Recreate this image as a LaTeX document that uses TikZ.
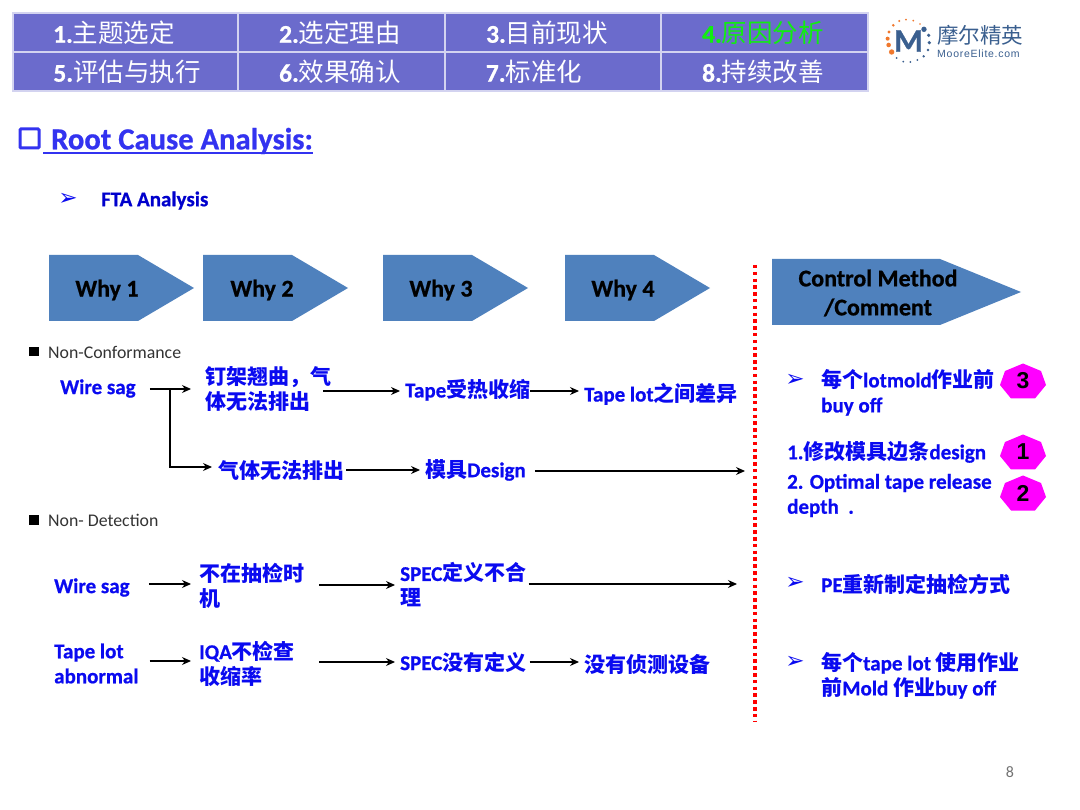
\documentclass[tikz,border=0pt]{standalone}
\usepackage{fontspec}
\setmainfont{Carlito}[BoldFeatures={FakeBold=0.7}]
\newfontfamily\zhb{Noto Sans CJK SC Bold}
\newfontfamily\zhr{Noto Sans CJK SC}
\newfontfamily\syms{DejaVu Sans}
\newfontfamily\arial{Liberation Sans}
\newfontfamily\logolatin[LetterSpace=7]{Liberation Sans}
\newcommand\Z[1]{{\zhb #1}}
\newcommand\R[1]{{\mdseries\zhr #1}}
\usetikzlibrary{arrows.meta}
\definecolor{hdr}{HTML}{6B6BCC}
\definecolor{whyblue}{HTML}{4F81BD}
\definecolor{txtblue}{HTML}{0A0AF0}
\definecolor{titleblue}{HTML}{3333F0}
\definecolor{logoblue}{HTML}{3A5F8F}
\definecolor{logoorange}{HTML}{F0782D}
\definecolor{hotpink}{RGB}{255,0,255}
\definecolor{hdrgreen}{HTML}{11EE11}
\tikzset{
  x=1pt,y=-1pt,
  cell/.style={fill=hdr,draw=white!70!hdr,line width=1.2pt},
  hdrtxt/.style={text=white,inner sep=0pt,font=\fontsize{25.5}{28}\selectfont\bfseries},
  lbl/.style={text=txtblue,anchor=west,inner sep=0pt,align=left,font=\fontsize{21}{25}\selectfont\bfseries},
  small/.style={text=black!80,anchor=west,inner sep=0pt,font=\fontsize{17.8}{20}\selectfont},
  why/.style={fill=whyblue,draw=none},
  whytxt/.style={inner sep=0pt,align=center,text=black,font=\fontsize{24}{29}\selectfont\bfseries},
  arr/.style={-{Stealth[length=9pt,width=8pt]},line width=1.2pt,black},
  bullet/.style={text=txtblue,inner sep=0pt,font=\fontsize{23}{24}\selectfont\syms},
  hept/.style={fill=hotpink,draw=none},
  num/.style={inner sep=0pt,text=black,font=\fontsize{23}{25}\selectfont\arial\bfseries},
}
\newcommand\whyarrow[6]{% name x0 x1 shoulder y0 y1
  \fill[why] (#2,#5) -- (#4,#5) -- (#3,{(#5+#6)/2}) -- (#4,#6) -- (#2,#6) -- cycle;
}
\newcommand\heptagon[4]{% name x y text
  \fill[hept,shift={(#2,#3)}] (0,-17.5) -- (18,-10) -- (23,4) -- (12,17.5) -- (-12,17.5) -- (-23,4) -- (-18,-10) -- cycle;
  \node[num] (#1) at (#2,#3) {#4};
}
\newcommand\conn[5]{% a dxa b dxb y
  \draw[arr] ([xshift=#2pt]#1.east |- 0,#5) -- ([xshift=-#4pt]#3.west |- 0,#5);
}
\begin{document}
\begin{tikzpicture}
\useasboundingbox (0,0) rectangle (1080,810);
\fill[white] (0,0) rectangle (1080,810);
% header
\foreach \xa/\xb in {13/238,238/445,445/661,661/868}
  \foreach \ya/\yb in {13/52,52/91}
    \draw[cell] (\xa,\ya) rectangle (\xb,\yb);
\node[hdrtxt] (h1) at (114,33) {1.\R{主题选定}};
\node[hdrtxt] (h2) at (340,33) {2.\R{选定理由}};
\node[hdrtxt] (h3) at (547,33) {3.\R{目前现状}};
\node[hdrtxt,text=hdrgreen] (h4) at (763,33) {4.\R{原因分析}};
\node[hdrtxt] (h5) at (127,72) {5.\R{评估与执行}};
\node[hdrtxt] (h6) at (340,72) {6.\R{效果确认}};
\node[hdrtxt] (h7) at (534,72) {7.\R{标准化}};
\node[hdrtxt] (h8) at (763,72) {8.\R{持续改善}};
% logo
\begin{scope}[shift={(640,0)},x=0.3333pt,y=-0.3333pt]
\foreach \px/\py/\r in {755/156/2.7,746/135/2.3,743/116/2,747/96/1.7,760/76/1.4,778/63/1.1,798/59/1,820/62/1,840/72/.8}
  \fill[logoorange] (\px,\py) circle[radius=\r pt];
\foreach \px/\py/\r in {852/88/2.7,866/106/1.8,868/128/1.8,864/150/1.4,851/169/1.3,832/180/1,811/186/1,790/185/1,770/174/1}
  \fill[logoblue] (\px,\py) circle[radius=\r pt];
\end{scope}
\node[inner sep=0pt,text=logoblue,font=\fontsize{33}{34}\selectfont\bfseries] (logom) at (908.5,41) {M};
\node[inner sep=0pt,anchor=west,text=logoblue,font=\fontsize{21.5}{24}\selectfont\zhr] (logot) at (937,35) {摩尔精英};
\node[inner sep=0pt,anchor=west,text=logoblue,font=\fontsize{10.5}{12}\selectfont\logolatin] (logos) at (937,54) {MooreElite.com};
% title
\draw[line width=3pt,color=titleblue,rounded corners=1pt] (20,129) rectangle (39,148);
\node[inner sep=0pt,anchor=west,text=titleblue,font=\fontsize{30.6}{32}\selectfont\bfseries] (title) at (51,141) {Root Cause Analysis:};
\draw[line width=1.5pt,titleblue] (43,153) -- (title.east |- 0,153);
\node[bullet] (b0) at (68,199) {➢};
\node[lbl,text=blue!80!black,font=\fontsize{21}{24}\selectfont\bfseries] (fta) at (101,200.5) {FTA Analysis};
% why arrows
\whyarrow{w1}{49}{194}{138}{255}{321}
\node[whytxt] (why1) at (107,290) {Why 1};
\whyarrow{w2}{203}{348}{292}{255}{321}
\node[whytxt] (why2) at (262,290) {Why 2};
\whyarrow{w3}{383}{528}{472}{255}{321}
\node[whytxt] (why3) at (441,290) {Why 3};
\whyarrow{w4}{565}{710}{654}{255}{321}
\node[whytxt] (why4) at (623,290) {Why 4};
\whyarrow{w5}{772}{1021}{940}{259}{325}
\node[whytxt] (ctrl) at (878,293) {Control Method\\/Comment};
% red line
\draw[red,line width=4pt,dash pattern=on 3.5pt off 3.3pt] (755,265) -- (755,722);
% section labels
\fill[black] (29,347) rectangle (39,356.5);
\node[small] (nc) at (48,352) {Non-Conformance};
\fill[black] (29,515) rectangle (39,524.5);
\node[small] (nd) at (48,520) {Non- Detection};
% row 1
\node[lbl] (a1) at (60,388.5) {Wire sag};
\node[lbl] (a2) at (205,389) {\Z{钉架翘曲，气}\\\Z{体无法排出}};
\node[lbl] (a3) at (405,390) {Tape\Z{受热收缩}};
\node[lbl] (a4) at (584,394) {Tape lot\Z{之间差异}};
\conn{a1}{14}{a2}{14}{389}
\conn{a2}{-8}{a3}{5}{391}
\conn{a3}{0}{a4}{5}{391}
% row 2
\node[lbl] (b2) at (218,471) {\Z{气体无法排出}};
\node[lbl] (b3) at (425,470) {\Z{模具}Design};
\coordinate (branch) at (170,389);
\coordinate (bend) at (170,467);
\coordinate (rightend) at (745,471);
\draw[arr] (branch) -- (bend) -- ([xshift=-6pt]b2.west |- bend);
\conn{b2}{2}{b3}{5}{470}
\draw[arr] ([xshift=9pt]b3.east |- rightend) -- (rightend);
% row 3
\node[lbl] (c1) at (54,587.5) {Wire sag};
\node[lbl] (c2) at (199,585.5) {\Z{不在抽检时}\\\Z{机}};
\node[lbl] (c3) at (400,585) {SPEC\Z{定义不合}\\\Z{理}};
\coordinate (c4) at (737,584);
\conn{c1}{19}{c2}{8}{584}
\conn{c2}{15}{c3}{5}{585}
\draw[arr] ([xshift=2pt]c3.east |- c4) -- (c4);
% row 4
\node[lbl] (d1) at (54,663.5) {Tape lot\\abnormal};
\node[lbl] (d2) at (199,663.5) {IQA\Z{不检查}\\\Z{收缩率}};
\node[lbl] (d3) at (400,662) {SPEC\Z{没有定义}};
\node[lbl] (d4) at (584,664) {\Z{没有侦测设备}};
\conn{d1}{11}{d2}{8}{661}
\conn{d2}{24}{d3}{5}{662}
\conn{d3}{3}{d4}{5}{662}
% right column
\node[bullet] (r1b) at (795,380) {➢};
\node[lbl] (r1) at (821,392.5) {\Z{每个}lotmold\Z{作业前}\\buy off};
\node[lbl] (r2) at (787,452) {1.\Z{修改模具边条}design};
\node[lbl] (r3) at (787,495.5) {2. Optimal tape release\\depth \ .};
\node[bullet] (r4b) at (795,583) {➢};
\node[lbl] (r4) at (821,584) {PE\Z{重新制定抽检方式}};
\node[bullet] (r5b) at (795,662) {➢};
\node[lbl] (r5) at (821,675.5) {\Z{每个}tape lot \Z{使用作业}\\\Z{前}Mold \Z{作业}buy off};
\heptagon{n3}{1023}{381}{3}
\heptagon{n1}{1023}{452}{1}
\heptagon{n2}{1023}{493}{2}
% page number
\node[inner sep=0pt,text=black!55,font=\fontsize{16}{18}\selectfont] (pg) at (1010,772) {8};
\end{tikzpicture}
\end{document}
